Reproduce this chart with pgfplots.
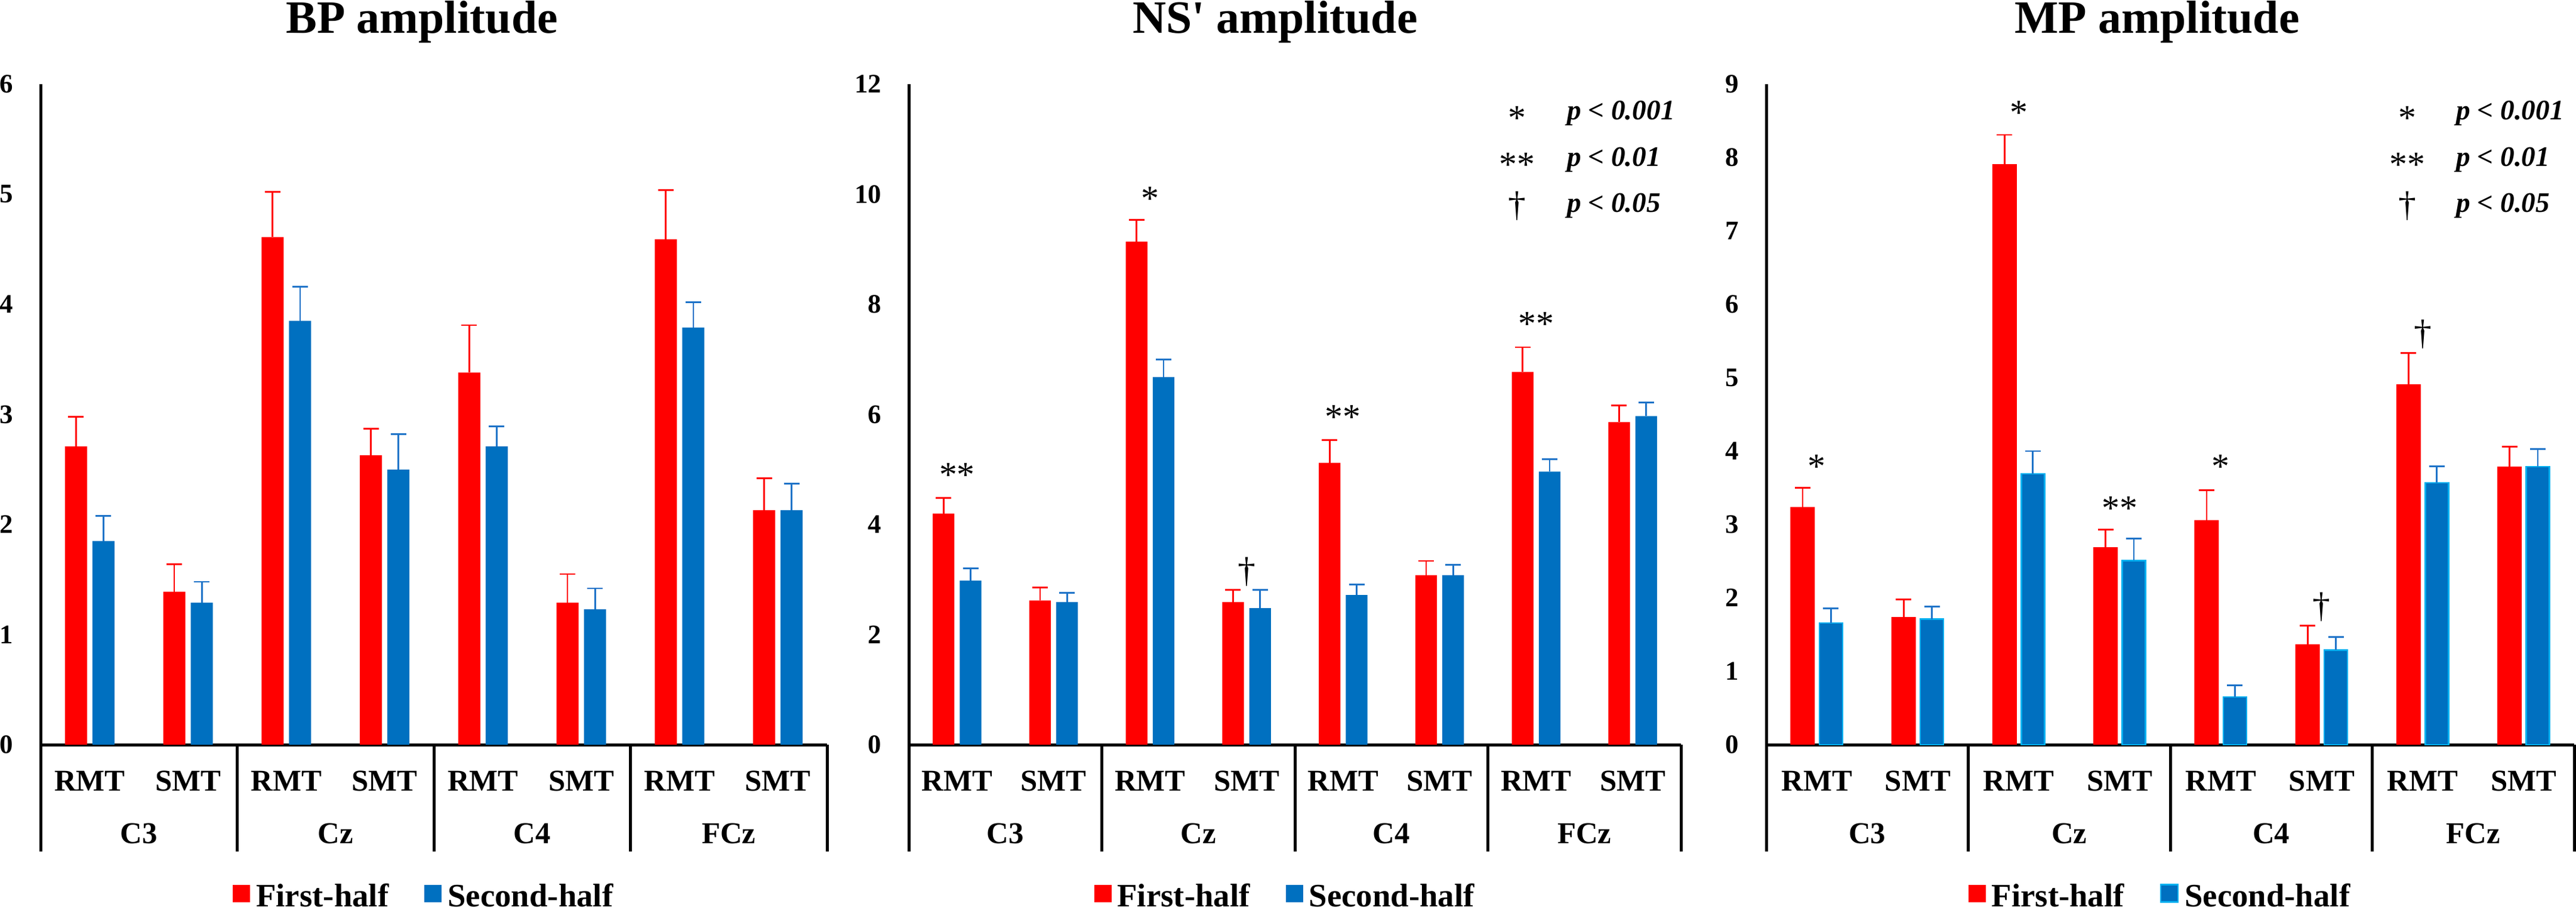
\documentclass[border=0pt]{standalone}
\usepackage{fontspec}
\setmainfont{Liberation Serif}
\newfontfamily\nomap{Liberation Serif}
\usepackage{pgfplots}
\usepackage{pgfplotstable}
\pgfplotsset{compat=1.18}
\definecolor{rfill}{HTML}{FF0000}
\definecolor{bfill}{HTML}{0070C0}
\definecolor{berr}{HTML}{1E73C8}
\definecolor{bedge}{HTML}{00B0F0}

\pgfplotstableread{
x f fe s se
0 2.71 0.27 1.85 0.23
1 1.39 0.25 1.29 0.19
2 4.61 0.41 3.85 0.31
3 2.63 0.24 2.50 0.32
4 3.38 0.43 2.71 0.18
5 1.29 0.26 1.23 0.19
6 4.59 0.45 3.79 0.23
7 2.13 0.29 2.13 0.24
}\tabBP
\pgfplotstableread{
x f fe s se
0 4.20 0.28 2.98 0.22
1 2.62 0.24 2.59 0.17
2 9.14 0.39 6.68 0.32
3 2.59 0.22 2.48 0.33
4 5.12 0.41 2.72 0.19
5 3.08 0.26 3.08 0.19
6 6.77 0.45 4.96 0.23
7 5.86 0.30 5.97 0.25
}\tabNS
\pgfplotstableread{
x f fe s se
0 3.24 0.26 1.66 0.20
1 1.74 0.24 1.71 0.17
2 7.91 0.40 3.69 0.31
3 2.69 0.24 2.51 0.30
4 3.06 0.41 0.65 0.16
5 1.37 0.25 1.29 0.18
6 4.91 0.43 3.57 0.22
7 3.79 0.27 3.79 0.24
}\tabMP

\newcommand\sigfont{\fontsize{12}{14}\selectfont}
\newcommand\pfont{\fontsize{9.5}{11}\selectfont\bfseries\itshape}
\newcommand\labfont{\fontsize{10.2}{12}\selectfont\bfseries}

\pgfplotsset{
  panel/.style={
    anchor=south west, scale only axis, height=221.4bp,
    xmin=-0.5, xmax=7.5, ymin=0,
    axis x line=bottom, axis y line=left,
    axis line style={-, line width=1bp, black},
    major tick length=0pt,
    xtick={0,...,7},
    xticklabels={RMT,SMT,RMT,SMT,RMT,SMT,RMT,SMT},
    xticklabel style={font=\labfont, anchor=base, inner sep=0pt, yshift=-15.4bp},
    yticklabel style={font=\fontsize{9}{11}\selectfont\bfseries, anchor=east, inner sep=0pt, xshift=-9bp},
    /pgf/number format/assume math mode=true,
    clip=false,
    legend style={at={(0.49,-0.231)}, anchor=center, draw=none, fill=none,
      legend columns=2, font=\fontsize{11}{13}\selectfont\bfseries,
      /tikz/every even column/.append style={column sep=10bp}},
    legend image code/.code={\fill[##1] (0bp,-1.6bp) rectangle (5.8bp,4.2bp);},
  },
  redbar/.style={ybar, bar shift=0pt, fill=rfill, draw=none,
    error bars/y dir=plus, error bars/y explicit,
    error bars/error bar style={draw=rfill, line width=0.55bp},
    error bars/error mark options={rotate=90, draw=rfill, line width=0.55bp, mark size=2.6bp}},
  bluebar/.style={ybar, bar shift=0pt, fill=bfill, draw=none,
    error bars/y dir=plus, error bars/y explicit,
    error bars/error bar style={draw=berr, line width=0.55bp},
    error bars/error mark options={rotate=90, draw=berr, line width=0.55bp, mark size=2.6bp}},
}

\newcommand\separators{%
  \draw[line width=1bp] (axis cs:-0.5,0) -- ++(0pt,-35.8bp);
  \draw[line width=1bp] (axis cs:1.5,0) -- ++(0pt,-35.8bp);
  \draw[line width=1bp] (axis cs:3.5,0) -- ++(0pt,-35.8bp);
  \draw[line width=1bp] (axis cs:5.5,0) -- ++(0pt,-35.8bp);
  \draw[line width=1bp] (axis cs:7.5,0) -- ++(0pt,-35.8bp);
  \node[font=\labfont, anchor=base, yshift=-33bp] at (axis cs:0.5,0) {C3};
  \node[font=\labfont, anchor=base, yshift=-33bp] at (axis cs:2.5,0) {Cz};
  \node[font=\labfont, anchor=base, yshift=-33bp] at (axis cs:4.5,0) {C4};
  \node[font=\labfont, anchor=base, yshift=-33bp] at (axis cs:6.5,0) {FCz};
}

\begin{document}
\begin{tikzpicture}
\path[use as bounding box] (0bp,0bp) rectangle (863.4bp,-305bp);

% ---------------- BP ----------------
\begin{axis}[panel, at={(13.6bp,-249.6bp)}, width=263.6bp, ymax=6, ytick={0,...,6}]
\addplot[redbar, bar width=7.41bp, forget plot] table[x expr=\thisrow{x}-0.14, y=f, y error=fe] {\tabBP};
\addplot[bluebar, bar width=7.41bp, forget plot] table[x expr=\thisrow{x}+0.14, y=s, y error=se] {\tabBP};
\addlegendimage{fill=rfill, draw=none}
\addlegendentry{First-half}
\addlegendimage{fill=bfill, draw=none}
\addlegendentry{Second-half}
\separators
\end{axis}

% ---------------- NS' ----------------
\begin{axis}[panel, at={(304.6bp,-249.6bp)}, width=258.8bp, ymax=12, ytick={0,2,...,12}]
\addplot[redbar, bar width=7.28bp, forget plot] table[x expr=\thisrow{x}-0.14, y=f, y error=fe] {\tabNS};
\addplot[bluebar, bar width=7.28bp, forget plot] table[x expr=\thisrow{x}+0.14, y=s, y error=se] {\tabNS};
\addlegendimage{fill=rfill, draw=none}
\addlegendentry{First-half}
\addlegendimage{fill=bfill, draw=none}
\addlegendentry{Second-half}
\separators
\node[font=\sigfont, yshift=-1.5bp] at (axis cs:0,4.98) {**};
\node[font=\sigfont, yshift=-1.5bp] at (axis cs:2,10.0) {*};
\node[font=\sigfont] at (axis cs:3,3.14) {†};
\node[font=\sigfont, yshift=-1.5bp] at (axis cs:4,6.03) {**};
\node[font=\sigfont, yshift=-1.5bp] at (axis cs:6,7.72) {**};
\end{axis}

% ---------------- MP ----------------
\begin{axis}[panel, at={(592bp,-249.6bp)}, width=270.8bp, ymax=9, ytick={0,...,9}]
\addplot[redbar, bar width=8.2bp, forget plot] table[x expr=\thisrow{x}-0.14, y=f, y error=fe] {\tabMP};
\addplot[bluebar, bar width=7.8bp, draw=bedge, line width=0.5bp, forget plot] table[x expr=\thisrow{x}+0.14, y=s, y error=se] {\tabMP};
\addlegendimage{fill=rfill, draw=none}
\addlegendentry{First-half}
\addlegendimage{fill=bfill, draw=bedge, line width=0.5bp}
\addlegendentry{Second-half}
\separators
\node[font=\sigfont, yshift=-1.5bp] at (axis cs:0,3.85) {*};
\node[font=\sigfont, yshift=-1.5bp] at (axis cs:2,8.67) {*};
\node[font=\sigfont, yshift=-1.5bp] at (axis cs:3,3.28) {**};
\node[font=\sigfont, yshift=-1.5bp] at (axis cs:4,3.85) {*};
\node[font=\sigfont] at (axis cs:5,1.88) {†};
\node[font=\sigfont] at (axis cs:6,5.59) {†};
\end{axis}

% titles
\node[font=\fontsize{15.6}{18}\selectfont\bfseries, anchor=base] at (141.4bp,-11bp) {BP amplitude};
\node[font=\fontsize{15.6}{18}\selectfont\bfseries, anchor=base] at (427.4bp,-11bp) {\nomap\bfseries NS' amplitude};
\node[font=\fontsize{15.6}{18}\selectfont\bfseries, anchor=base] at (723bp,-11bp) {MP amplitude};

% significance keys
\node[font=\sigfont, yshift=-1.5bp] at (508.4bp,-38bp) {*};
\node[font=\sigfont, yshift=-1.5bp] at (508.4bp,-53.6bp) {**};
\node[font=\sigfont] at (508.4bp,-69bp) {†};
\node[font=\pfont, anchor=west, inner sep=0pt] at (525bp,-38bp) {p < 0.001};
\node[font=\pfont, anchor=west, inner sep=0pt] at (525bp,-53.6bp) {p < 0.01};
\node[font=\pfont, anchor=west, inner sep=0pt] at (525bp,-69bp) {p < 0.05};

\node[font=\sigfont, yshift=-1.5bp] at (806.8bp,-38bp) {*};
\node[font=\sigfont, yshift=-1.5bp] at (806.8bp,-53.6bp) {**};
\node[font=\sigfont] at (806.8bp,-69bp) {†};
\node[font=\pfont, anchor=west, inner sep=0pt] at (823bp,-38bp) {p < 0.001};
\node[font=\pfont, anchor=west, inner sep=0pt] at (823bp,-53.6bp) {p < 0.01};
\node[font=\pfont, anchor=west, inner sep=0pt] at (823bp,-69bp) {p < 0.05};
\end{tikzpicture}
\end{document}
